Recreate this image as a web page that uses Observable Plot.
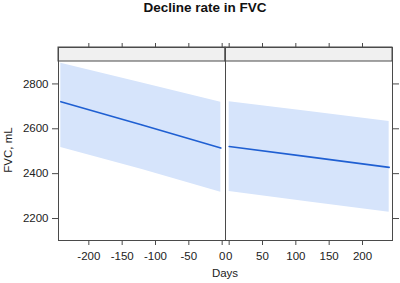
<!DOCTYPE html>
<html>
<head>
<meta charset="utf-8">
<script src="https://cdn.jsdelivr.net/npm/d3@7"></script>
<script src="https://cdn.jsdelivr.net/npm/@observablehq/plot@0.6"></script>
<style>
  html, body { margin: 0; padding: 0; background: white; }
  #wrap { position: relative; width: 400px; height: 283px; font-family: "Liberation Sans", Arial, sans-serif; }
  #wrap svg { position: absolute; left: 0; top: 0; }
  .title { position: absolute; left: 0; width: 410px; top: 0px; text-align: center; font-weight: bold; font-size: 13.5px; color: #111; }
  .xlab { position: absolute; left: 0; width: 450px; top: 267px; text-align: center; font-size: 11.5px; color: #222; }
  .ylab { position: absolute; left: 7.5px; top: 150px; transform: translate(-50%, -50%) rotate(-90deg); font-size: 11.5px; color: #222; white-space: nowrap; }
</style>
</head>
<body>
<div id="wrap"></div>
<script>
// ---- data ----
const beforeDays  = [-242, -120, -2];
const beforeFit   = [2721, 2617, 2514];
const beforeUpper = [2892, 2804, 2718];
const beforeLower = [2517, 2418, 2317];

const afterDays  = [0, 120, 240];
const afterFit   = [2521, 2475, 2428];
const afterUpper = [2721, 2677, 2632];
const afterLower = [2320, 2274, 2228];

const leftTicks  = [-200, -150, -100, -50, 0];
const rightTicks = [0, 50, 100, 150, 200];
const yTicks = [2200, 2400, 2600, 2800];

const titleText = "Decline rate in FVC";
const xLabel = "Days";
const yLabel = "FVC, mL";

// ---- layout ----
const W = 400, H = 283;
const left = 58, mid = 225, right = 392;
const stripTop = 47, panelTop = 61, panelBottom = 240;
const yDomainData = [2102, 2900];
const unitsPerPx = (yDomainData[1] - yDomainData[0]) / (panelBottom - panelTop);
const yStripTop = yDomainData[1] + (panelTop - stripTop) * unitsPerPx;

const lineColor = "#1f5fd2";
const bandColor = "#d6e4fb";
const frameColor = "#4a4a4a";
const hyphenFmt = d => String(d);

function rows(days, fit, up, lo) {
  return days.map((d, i) => ({day: d, fit: fit[i], up: up[i], lo: lo[i]}));
}
const beforeData = rows(beforeDays, beforeFit, beforeUpper, beforeLower);
const afterData = rows(afterDays, afterFit, afterUpper, afterLower);

function panel({data, xDomain, ticks, isLeft}) {
  const marks = [
    Plot.areaY(data, {x: "day", y1: "lo", y2: "up", fill: bandColor, fillOpacity: 1}),
    Plot.lineY(data, {x: "day", y: "fit", stroke: lineColor, strokeWidth: 1.6}),
    Plot.rect([0], {x1: () => xDomain[0], x2: () => xDomain[1], y1: () => yDomainData[1], y2: () => yStripTop, fill: "#f0f0f0", stroke: frameColor, strokeWidth: 1}),
    Plot.frame({stroke: frameColor, strokeWidth: 1}),
    Plot.axisX({anchor: "bottom", ticks, tickSize: 5, tickPadding: 6, fontSize: 11.5, label: null, tickFormat: hyphenFmt, stroke: frameColor, fill: "#222"}),
    Plot.axisX({anchor: "top", ticks, tickSize: 5, tickFormat: () => "", label: null, stroke: frameColor})
  ];
  if (isLeft) {
    marks.push(Plot.axisY({anchor: "left", ticks: yTicks, tickSize: 6, tickPadding: 4, fontSize: 11.5, label: null, tickFormat: hyphenFmt, stroke: frameColor, fill: "#222"}));
  } else {
    marks.push(Plot.axisY({anchor: "right", ticks: yTicks, tickSize: 6, tickFormat: () => "", label: null, stroke: frameColor}));
  }
  return Plot.plot({
    width: W, height: H,
    marginLeft: isLeft ? left : mid,
    marginRight: isLeft ? W - mid : W - right,
    marginTop: stripTop,
    marginBottom: H - panelBottom,
    style: {background: "transparent", fontFamily: "'Liberation Sans', Arial, sans-serif", fontSize: "11.5px", color: "#222"},
    x: {domain: xDomain},
    y: {domain: [yDomainData[0], yStripTop]},
    marks
  });
}

const wrap = document.getElementById("wrap");
wrap.appendChild(panel({data: beforeData, xDomain: [-245.5, 5], ticks: leftTicks, isLeft: true}));
wrap.appendChild(panel({data: afterData, xDomain: [-5.5, 245], ticks: rightTicks, isLeft: false}));

const t = document.createElement("div"); t.className = "title"; t.textContent = titleText; wrap.appendChild(t);
const xl = document.createElement("div"); xl.className = "xlab"; xl.textContent = xLabel; wrap.appendChild(xl);
const yl = document.createElement("div"); yl.className = "ylab"; yl.textContent = yLabel; wrap.appendChild(yl);
</script>
</body>
</html>
